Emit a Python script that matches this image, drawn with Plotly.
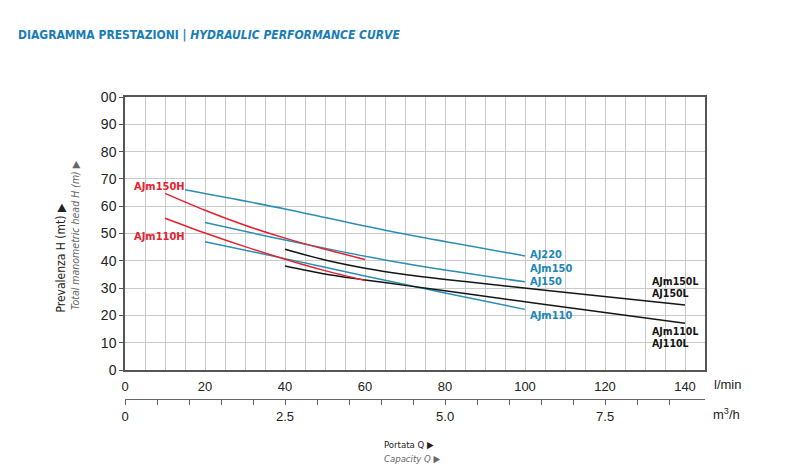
import plotly.graph_objects as go

# ---------------- data ----------------
q_aj220 = [15, 40, 65, 100]
h_aj220 = [66, 59, 51.2, 41.8]

q_ajm150 = [20, 37, 52, 65, 80, 100]
h_ajm150 = [54, 48.5, 44, 40.3, 36.6, 32.3]

q_ajm110 = [20, 40, 60, 80, 100]
h_ajm110 = [47, 40.8, 34.4, 28.2, 22.2]

q_ajm150h = [10, 20, 30, 40, 50, 60]
h_ajm150h = [64.7, 58.5, 53.0, 48.3, 44.2, 40.5]

q_ajm110h = [10, 20, 30, 40, 50, 60]
h_ajm110h = [55.6, 50.2, 45.2, 40.6, 36.4, 32.8]

q_ajm150l = [40, 50, 60, 70, 85, 105, 140]
h_ajm150l = [44.2, 40.3, 37.3, 35.0, 32.4, 29.2, 23.8]

q_ajm110l = [40, 50, 60, 70, 85, 105, 140]
h_ajm110l = [38.1, 35.2, 33.0, 31.0, 28.0, 24.0, 17.1]

x_ticks_lmin = list(range(0, 146, 5))
x_labels_lmin = [str(v) if v % 20 == 0 else "" for v in x_ticks_lmin]
x_ticks_m3h = [i * 0.5 for i in range(0, 18)]
x_labels_m3h = {0: "0", 2.5: "2.5", 5.0: "5.0", 7.5: "7.5"}
y_ticks = list(range(0, 101, 10))
y_labels = [str(v) for v in range(0, 100, 10)] + ["00"]

BLUE = "#2b8db3"
BLUE_TXT = "#1f86b8"
RED = "#e32232"
BLACK = "#151515"
TITLE_BLUE = "#1a7db6"
NARROW = "DejaVu Sans Condensed, Liberation Sans Narrow, Arial Narrow, sans-serif"
SANS = "Liberation Sans, Arial, sans-serif"

fig = go.Figure()

series = [
    (q_aj220, h_aj220, BLUE),
    (q_ajm150, h_ajm150, BLUE),
    (q_ajm110, h_ajm110, BLUE),
    (q_ajm150l, h_ajm150l, BLACK),
    (q_ajm110l, h_ajm110l, BLACK),
    (q_ajm150h, h_ajm150h, RED),
    (q_ajm110h, h_ajm110h, RED),
]
for qs, hs, col in series:
    fig.add_trace(go.Scatter(
        x=qs, y=hs, mode="lines",
        line=dict(color=col, width=1.5, shape="spline", smoothing=0.8),
        hoverinfo="skip", showlegend=False, xaxis="x", yaxis="y"))

# invisible trace for secondary axis
fig.add_trace(go.Scatter(x=[0], y=[0], mode="markers", marker=dict(opacity=0),
                         xaxis="x2", yaxis="y", showlegend=False, hoverinfo="skip"))

# geometry: plot area 125..729 px horizontally, 97..399 vertically
W_PLOT = 604.0
H_PLOT = 302.0
x_dom_end = 580.0 / W_PLOT
y_dom_start = 29.0 / H_PLOT

fig.update_layout(
    width=800, height=465,
    margin=dict(l=125, r=71, t=97, b=66),
    paper_bgcolor="white", plot_bgcolor="white",
    xaxis=dict(
        domain=[0, x_dom_end], range=[0, 145], anchor="y",
        tickmode="array", tickvals=x_ticks_lmin, ticktext=x_labels_lmin,
        showgrid=True, gridcolor="#c9c9c9", gridwidth=1,
        showline=True, linecolor="#555555", linewidth=1.5, mirror=True,
        ticks="", zeroline=False, ticklabelstandoff=4,
        tickfont=dict(family=SANS, size=13, color="#222222"),
    ),
    xaxis2=dict(
        domain=[0, 1], range=[0, W_PLOT / 4.0 * 0.06], anchor="free", position=0,
        overlaying="x", side="bottom",
        tickmode="array", tickvals=x_ticks_m3h,
        ticktext=[x_labels_m3h.get(v, "") for v in x_ticks_m3h],
        showgrid=False, showline=True, linecolor="#666666", linewidth=1,
        ticks="outside", ticklen=5, tickcolor="#666666", tickwidth=1,
        zeroline=False,
        tickfont=dict(family=SANS, size=13, color="#222222"),
    ),
    yaxis=dict(
        domain=[y_dom_start, 1], range=[0, 100],
        tickmode="array", tickvals=y_ticks, ticktext=y_labels,
        showgrid=True, gridcolor="#c9c9c9", gridwidth=1,
        showline=True, linecolor="#555555", linewidth=1.5, mirror=True,
        ticks="outside", ticklen=4, tickcolor="#555555",
        zeroline=False,
        tickfont=dict(family=SANS, size=14, color="#222222"),
    ),
)

ann = []


def to_paper(xp, yp):
    return (xp - 125.0) / W_PLOT, (399.0 - yp) / H_PLOT


def add_text(text, xp, yp, font, xanchor="left", yanchor="middle", textangle=0):
    px, py = to_paper(xp, yp)
    ann.append(dict(text=text, x=px, y=py, xref="paper", yref="paper",
                    showarrow=False, xanchor=xanchor, yanchor=yanchor,
                    textangle=textangle, font=font))


# title
add_text("DIAGRAMMA PRESTAZIONI | <i>HYDRAULIC PERFORMANCE CURVE</i>", 16, 35,
         dict(family=NARROW, size=12, color=TITLE_BLUE, weight="bold"))

lab_font_red = dict(family=NARROW, size=11, color=RED, weight="bold")
lab_font_blue = dict(family=NARROW, size=11, color=BLUE_TXT, weight="bold")
lab_font_black = dict(family=NARROW, size=10.5, color=BLACK, weight="bold")

add_text("AJm150H", 132, 186, lab_font_red)
add_text("AJm110H", 132, 236, lab_font_red)
add_text("AJ220", 528, 254, lab_font_blue)
add_text("AJm150", 528, 268, lab_font_blue)
add_text("AJ150", 528, 281, lab_font_blue)
add_text("AJm110", 528, 315, lab_font_blue)
add_text("AJm150L", 650, 281, lab_font_black)
add_text("AJ150L", 650, 293, lab_font_black)
add_text("AJm110L", 650, 331, lab_font_black)
add_text("AJ110L", 650, 343, lab_font_black)

# axis unit labels
add_text("l/min", 712, 384, dict(family=SANS, size=13, color="#222222"))
add_text("m<sup>3</sup>/h", 711, 414, dict(family=SANS, size=13, color="#222222"))

# axis titles
add_text("Portata Q ▶", 382, 444, dict(family=NARROW, size=9.5, color="#222222"))
add_text("<i>Capacity Q ▶</i>", 382, 459, dict(family=NARROW, size=9.5, color="#666666"))
add_text("Prevalenza H (mt) ▶", 60, 315,
         dict(family=NARROW, size=12, color="#222222"),
         xanchor="center", yanchor="bottom", textangle=-90)
add_text("<i>Total manometric head H (m) ▶</i>", 75, 312,
         dict(family=NARROW, size=10.5, color="#666666"),
         xanchor="center", yanchor="bottom", textangle=-90)

fig.update_layout(annotations=ann)
fig.write_html("out.html")
